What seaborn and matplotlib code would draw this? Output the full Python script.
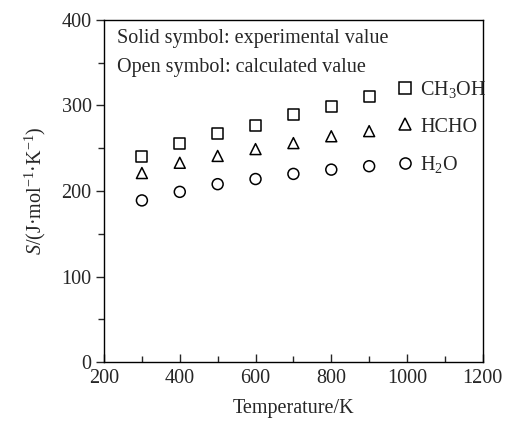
import numpy as np
import pandas as pd
import matplotlib
matplotlib.use("Agg")
import matplotlib.pyplot as plt
import seaborn as sns
from matplotlib.lines import Line2D

# Standard molar entropy vs temperature (calculated values)
temperature = [300, 400, 500, 600, 700, 800, 900]
s_ch3oh = [240, 255, 267, 277, 289, 299, 310]
s_hcho = [221, 233, 241, 249, 256, 264, 270]
s_h2o = [189, 199, 208, 214, 220, 225, 229]
species = ["CH$_3$OH", "HCHO", "H$_2$O"]

sns.set_theme(style="ticks")
plt.rcParams["font.family"] = ["Liberation Serif", "DejaVu Serif"]
plt.rcParams["mathtext.fontset"] = "custom"
plt.rcParams["mathtext.rm"] = "Liberation Serif"
plt.rcParams["mathtext.it"] = "Liberation Serif:italic"

FS = 14.5

df = pd.DataFrame({
    "T": temperature * 3,
    "S": s_ch3oh + s_hcho + s_h2o,
    "species": [species[0]] * 7 + [species[1]] * 7 + [species[2]] * 7,
})

fig = plt.figure(figsize=(5.05, 4.24), dpi=100)
ax = fig.add_axes([0.206, 0.146, 0.75, 0.807])

sns.scatterplot(
    data=df, x="T", y="S", style="species", hue="species",
    markers={species[0]: "s", species[1]: "^", species[2]: "o"},
    palette={s: "black" for s in species},
    s=62, linewidth=1.1, ax=ax, legend=False,
)
# open markers
for coll in ax.collections:
    coll.set_facecolor("none")
    coll.set_edgecolor("black")

ax.set_xlim(200, 1200)
ax.set_ylim(0, 400)
ax.set_xticks([200, 400, 600, 800, 1000, 1200])
ax.set_xticks([300, 500, 700, 900, 1100], minor=True)
ax.set_yticks([0, 100, 200, 300, 400])
ax.set_yticks([50, 150, 250, 350], minor=True)
ax.tick_params(axis="x", which="both", direction="in", labelsize=FS, pad=5)
ax.tick_params(axis="x", which="major", length=6, width=1)
ax.tick_params(axis="x", which="minor", length=4, width=1)
ax.tick_params(axis="y", which="both", direction="out", labelsize=FS, pad=3)
ax.tick_params(axis="y", which="major", length=6, width=1)
ax.tick_params(axis="y", which="minor", length=4, width=1)
for sp in ax.spines.values():
    sp.set_visible(True)
    sp.set_color("black")
    sp.set_linewidth(1)

ax.set_xlabel("Temperature/K", fontsize=FS, labelpad=8)
ax.set_ylabel(r"$\mathit{S}$/(J·mol$^{-1}$·K$^{-1}$)", fontsize=FS, labelpad=10)

ax.text(0.035, 0.945, "Solid symbol: experimental value", transform=ax.transAxes,
        fontsize=FS, va="center", ha="left")
ax.text(0.035, 0.862, "Open symbol: calculated value", transform=ax.transAxes,
        fontsize=FS, va="center", ha="left")

handles = [
    Line2D([], [], ls="none", marker=m, mfc="none", mec="black", ms=8, mew=1.1)
    for m in ["s", "^", "o"]
]
ax.legend(handles, species, loc="upper left", bbox_to_anchor=(0.752, 0.85),
          frameon=False, fontsize=FS, handlelength=0.8, handletextpad=0.35,
          labelspacing=0.85, borderaxespad=0)

fig.savefig("out.png", dpi=100)
